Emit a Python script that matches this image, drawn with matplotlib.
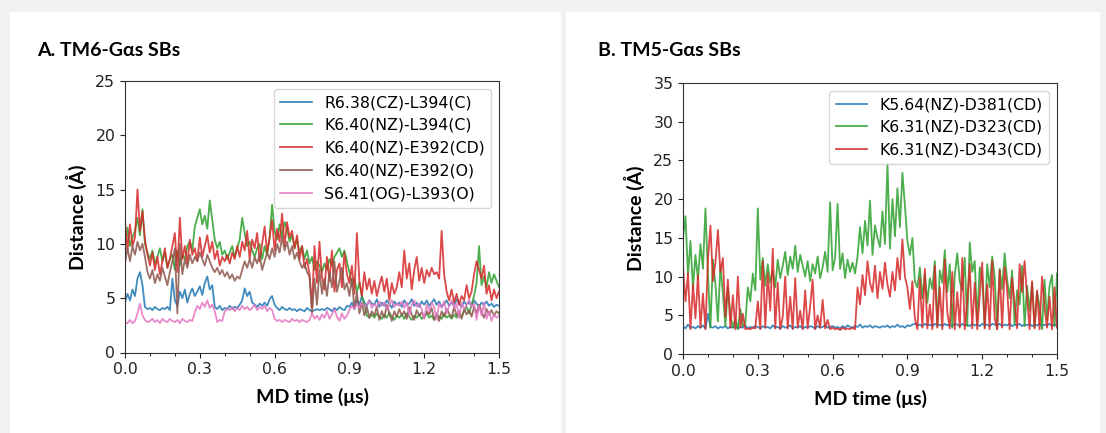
import numpy as np
import matplotlib.pyplot as plt
from matplotlib.patches import Rectangle
from matplotlib.ticker import MultipleLocator, FormatStrFormatter

# ---- A. TM6-Gas salt bridges (distance in Angstrom, one value per 0.01 us) ----
a_r638_l394 = [
    4.6, 5.4, 4.8, 5.8, 5.2, 6.8, 7.4, 6.2, 4.2, 4.0,
    4.1, 3.9, 4.2, 4.0, 3.9, 4.1, 4.0, 4.2, 3.9, 6.8,
    4.8, 4.3, 5.6, 5.0, 5.8, 4.6, 5.4, 5.9, 5.2, 5.6,
    6.1, 5.3, 6.4, 7.0, 5.8, 6.2, 4.2, 4.0, 4.3, 3.9,
    4.1, 4.0, 4.3, 4.0, 4.2, 4.1, 4.4, 4.8, 5.9, 5.2,
    5.6, 4.6, 4.4, 4.2, 4.5, 4.3, 4.6, 4.3, 4.9, 5.2,
    4.4, 4.1, 3.9, 4.2, 4.0, 3.9, 4.1, 3.9, 4.0, 3.8,
    4.0, 3.9, 3.8, 4.1, 3.9, 3.8, 3.9, 4.0, 3.9, 4.0,
    3.9, 4.1, 4.0, 3.8, 4.1, 3.9, 4.2, 4.0, 3.9, 4.3,
    4.2, 4.6, 4.0, 4.8, 4.4, 5.2, 4.6, 4.3, 4.8, 4.5,
    4.4, 4.9, 4.2, 4.6, 4.3, 4.8, 4.5, 4.1, 4.7, 4.4,
    4.6, 4.2, 4.8, 4.4, 4.5, 4.9, 4.3, 4.6, 4.2, 4.7,
    4.4, 4.8, 4.3, 4.6, 4.9, 4.4, 4.7, 4.2, 4.5, 4.8,
    4.3, 4.6, 4.4, 4.9, 4.5, 4.2, 4.7, 4.4, 4.6, 4.3,
    4.8, 4.5, 4.2, 4.6, 4.4, 4.7, 4.3, 4.5, 4.2, 4.4,
    4.3,
]
a_k640_l394 = [
    9.5, 11.5, 9.8, 10.6, 11.2, 12.4, 10.8, 13.2, 10.0, 9.2,
    8.6, 9.4, 8.2, 8.8, 9.6, 8.4, 9.2, 7.8, 8.6, 9.0,
    7.6, 9.4, 8.0, 9.0, 8.6, 9.8, 10.2, 9.4, 11.6, 12.4,
    13.2, 11.8, 12.6, 11.4, 14.0, 12.2, 10.4, 9.6, 10.2, 9.0,
    9.4, 8.6, 9.2, 9.8, 8.8, 9.6, 10.4, 12.4, 11.0, 9.8,
    10.2, 9.4, 8.8, 9.6, 10.0, 8.6, 9.8, 9.0, 10.6, 13.6,
    11.2, 10.4, 11.8, 10.6, 12.0, 11.4, 10.2, 10.8, 9.6, 10.4,
    9.2, 9.8, 8.6, 9.4, 8.2, 8.8, 7.6, 8.4, 8.0, 7.4,
    8.2, 7.6, 8.6, 8.0, 8.8, 9.2, 9.6, 8.8, 9.4, 8.4,
    7.4, 6.2, 6.8, 5.6, 6.4, 5.2, 4.4, 3.4, 3.2, 3.5,
    3.2, 3.6, 3.3, 3.1, 3.5, 3.2, 3.7, 3.3, 3.0, 3.4,
    3.2, 3.5, 3.1, 3.6, 3.3, 3.0, 3.4, 3.2, 3.5, 3.1,
    3.3, 3.6, 3.2, 3.4, 3.0, 3.5, 3.3, 3.1, 3.6, 3.2,
    3.4, 3.1, 3.5, 3.2, 3.6, 3.3, 3.8, 4.2, 3.6, 4.4,
    5.2, 6.4, 9.8, 6.2, 7.0, 6.0, 7.4, 6.4, 7.2, 6.6,
    6.0,
]
a_k640_e392cd = [
    12.2, 9.4, 11.8, 9.8, 10.6, 15.0, 11.2, 13.0, 10.4, 9.0,
    8.0, 9.2, 7.6, 8.8, 7.2, 8.4, 9.6, 7.8, 8.6, 9.8,
    11.0, 7.4, 12.4, 8.6, 9.8, 8.2, 10.4, 9.0, 9.6, 8.4,
    10.6, 8.8, 9.8, 10.8, 9.2, 10.2, 8.6, 9.4, 8.0, 8.8,
    8.4, 9.0, 8.2, 9.2, 8.6, 9.8, 8.8, 10.2, 9.4, 11.2,
    8.6, 10.4, 9.6, 11.0, 8.4, 10.0, 11.6, 9.2, 10.6, 12.2,
    9.4, 11.4, 10.2, 12.8, 9.8, 12.0, 10.6, 11.2, 9.6, 10.8,
    8.6, 9.8, 7.8, 8.6, 7.2, 4.2, 9.8, 6.4, 10.2, 7.0,
    5.8, 8.8, 6.6, 9.4, 5.6, 7.6, 8.2, 6.0, 9.2, 7.2,
    6.4, 8.0, 5.4, 11.0, 6.6, 5.2, 7.4, 5.8, 6.8, 5.4,
    6.6, 5.2, 6.2, 7.0, 5.6, 6.8, 4.8, 6.4, 5.4, 6.0,
    7.4, 6.0, 9.4, 6.8, 8.2, 5.8, 7.6, 8.8, 6.6, 7.8,
    6.4, 7.6, 7.0, 7.8, 7.2, 7.4, 6.8, 11.2, 7.2, 5.6,
    4.8, 5.8, 4.6, 5.4, 4.4, 5.2, 4.8, 6.2, 5.0, 5.6,
    7.2, 8.4, 7.6, 6.8, 8.0, 5.4, 6.2, 4.8, 5.8, 5.0,
    5.6,
]
a_k640_e392o = [
    8.2, 9.6, 8.4, 9.8, 9.0, 10.2, 9.4, 10.0, 8.8, 7.4,
    6.8, 7.6, 6.4, 7.2, 6.6, 7.8, 7.0, 6.2, 7.4, 8.4,
    9.6, 3.6, 10.0, 7.2, 8.6, 7.8, 9.0, 8.2, 8.8, 8.4,
    9.2, 8.6, 8.0, 9.0, 8.4, 7.8, 7.4, 7.8, 7.2, 7.6,
    7.0, 7.4, 6.8, 7.2, 6.6, 7.0, 6.8, 7.6, 8.4, 7.8,
    8.6, 7.8, 8.8, 8.2, 9.0, 7.6, 8.4, 9.2, 8.6, 9.6,
    8.8, 10.0, 9.2, 10.6, 9.4, 10.2, 9.0, 9.8, 8.6, 9.2,
    8.4, 7.8, 8.2, 7.4, 7.0, 3.6, 6.8, 4.4, 7.6, 5.4,
    6.8, 5.2, 7.4, 6.0, 8.4, 5.6, 6.6, 7.8, 5.8, 6.4,
    5.2, 6.8, 4.0, 5.6, 3.6, 4.6, 3.4, 4.2, 3.2, 3.8,
    3.4, 4.2, 3.0, 3.8, 3.2, 4.4, 3.6, 2.9, 3.8, 3.3,
    4.0, 3.4, 3.8, 3.1, 4.2, 3.5, 3.0, 3.9, 3.4, 3.7,
    3.2, 3.8, 3.5, 4.1, 3.0, 3.6, 2.9, 3.8, 3.3, 4.0,
    3.6, 3.2, 4.2, 3.4, 3.8, 3.1, 4.0, 3.5, 3.9, 3.3,
    4.2, 3.6, 4.4, 3.8, 3.2, 4.0, 3.5, 3.9, 3.4, 3.8,
    3.6,
]
a_s641_l393 = [
    2.8, 2.7, 3.0, 2.7, 2.9, 3.6, 4.5, 3.4, 3.0, 2.8,
    2.9, 3.1, 2.8, 3.0, 2.7, 3.1, 2.9, 2.8, 3.1, 2.9,
    2.8, 3.0, 2.7, 3.1, 2.9, 2.8, 3.0, 2.9, 3.7, 4.3,
    4.0, 4.6, 4.2, 4.8, 4.1, 4.4, 3.8, 2.8, 3.0, 2.9,
    3.8, 4.0, 3.9, 4.2, 3.8, 4.1, 3.9, 4.3, 4.0, 4.2,
    3.9, 4.1, 4.4, 3.9, 4.2, 4.0, 4.3, 3.8, 4.1, 3.9,
    3.1, 2.9, 3.0, 2.8, 3.0, 2.9, 2.8, 3.1, 2.9, 3.0,
    2.8, 3.0, 2.9, 2.8, 3.0, 3.6, 3.1, 3.4, 3.0, 3.5,
    3.2, 3.8, 3.1, 3.5, 4.0, 3.3, 2.9, 3.6, 3.1, 3.4,
    3.9, 4.3, 4.0, 4.5, 4.1, 4.6, 4.2, 4.4, 4.8, 4.1,
    4.5, 4.2, 4.7, 4.3, 4.6, 4.0, 4.4, 4.8, 4.2, 4.5,
    4.3, 4.7, 4.1, 4.6, 3.4, 4.4, 4.8, 4.2, 4.5, 4.0,
    3.1, 4.4, 3.8, 4.6, 4.2, 3.0, 4.5, 4.1, 4.7, 3.6,
    4.3, 4.8, 4.1, 4.5, 3.2, 4.6, 4.0, 4.4, 4.9, 4.2,
    4.5, 3.0, 4.3, 3.4, 4.6, 3.1, 3.8, 2.9, 3.5, 3.2,
    3.4,
]

# ---- B. TM5-Gas salt bridges ----
b_k564_d381 = [
    3.6, 3.3, 3.8, 3.4, 3.5, 3.3, 3.6, 3.4, 3.7, 3.3,
    5.2, 3.5, 3.4, 3.6, 3.3, 3.5, 3.4, 3.6, 3.3, 3.5,
    3.4, 3.6, 3.3, 3.5, 3.4, 3.7, 3.3, 3.5, 3.4, 3.6,
    3.5, 3.3, 3.6, 3.4, 3.5, 3.3, 3.7, 3.4, 3.5, 3.3,
    3.6, 3.4, 3.5, 3.7, 3.3, 3.5, 3.4, 3.6, 3.3, 3.5,
    3.4, 3.6, 3.5, 3.3, 3.6, 3.4, 3.5, 3.7, 3.4, 3.5,
    3.6, 3.4, 3.5, 3.3, 3.6, 3.4, 3.7, 3.5, 3.4, 3.6,
    3.5, 3.8, 3.4, 3.6, 3.5, 3.7, 3.4, 3.6, 3.5, 3.4,
    3.6, 3.5, 3.7, 3.4, 3.6, 3.5, 3.8, 3.5, 3.6, 3.4,
    3.7, 3.6, 3.8, 3.9, 3.7, 3.8, 3.6, 3.9, 3.7, 3.8,
    3.6, 3.9, 3.7, 3.8, 3.6, 3.9, 3.7, 3.8, 3.6, 3.9,
    3.8, 3.6, 3.9, 3.7, 3.8, 3.6, 3.9, 3.7, 3.8, 3.6,
    3.9, 3.7, 3.8, 3.6, 3.9, 3.8, 3.7, 3.9, 3.6, 3.8,
    3.7, 3.9, 3.6, 3.8, 3.7, 3.9, 3.6, 3.8, 3.7, 3.9,
    3.6, 3.8, 3.7, 3.9, 3.6, 3.8, 3.7, 3.9, 3.6, 3.8,
    3.7,
]
b_k631_d323 = [
    15.0, 17.8, 10.2, 14.6, 8.4, 12.8, 9.6, 14.2, 11.0, 18.8,
    10.4, 3.4, 12.2, 9.0, 4.2, 11.4, 7.8, 3.6, 8.6, 5.0,
    3.4, 4.6, 3.2, 5.8, 3.6, 4.0, 8.6, 6.8, 10.4, 8.2,
    18.8, 9.6, 12.4, 8.8, 11.6, 9.2, 10.8, 8.6, 12.2, 9.8,
    11.4, 13.2, 10.2, 12.6, 11.0, 14.0, 10.6, 12.8, 11.4, 10.0,
    12.0, 9.4, 11.6, 10.4, 12.6, 9.8, 11.2, 13.2, 10.6, 19.6,
    10.8, 12.4, 19.4, 11.0, 13.0, 9.8, 12.2, 10.6, 11.8, 10.4,
    12.6, 16.4, 13.0, 17.2, 14.0, 19.8, 12.8, 16.6, 15.0, 13.8,
    18.4, 14.2, 24.6, 13.6, 20.0, 15.2, 21.4, 16.4, 23.4, 19.2,
    14.6, 12.8, 15.0, 9.4, 8.6, 11.2, 7.2, 10.4, 6.6, 9.8,
    8.4, 12.0, 3.6, 10.8, 9.2, 13.4, 8.0, 11.6, 3.4, 10.2,
    13.0, 9.4, 8.2, 12.4, 3.6, 14.4, 10.6, 12.0, 4.2, 11.2,
    9.8, 3.4, 11.6, 8.6, 12.6, 10.0, 3.2, 11.0, 8.4, 13.0,
    9.6, 7.2, 10.8, 3.8, 8.2, 6.4, 11.4, 3.6, 8.8, 5.6,
    9.2, 3.4, 8.0, 6.2, 3.2, 9.6, 4.4, 8.8, 10.2, 3.6,
    10.4,
]
b_k631_d343 = [
    11.2, 6.8, 10.4, 3.2, 9.0, 4.6, 10.2, 3.4, 7.8, 3.2,
    12.2, 16.6, 9.4, 11.8, 16.0, 10.6, 12.4, 4.8, 9.6, 3.4,
    7.6, 3.2, 10.0, 3.4, 5.2, 3.2, 3.3, 3.2, 3.4, 3.3,
    6.8, 3.2, 12.0, 3.4, 10.4, 5.6, 13.6, 3.3, 9.2, 3.2,
    4.8, 10.0, 3.3, 7.4, 3.2, 9.8, 3.4, 5.6, 3.2, 8.2,
    3.3, 6.2, 9.6, 3.2, 5.0, 3.4, 7.0, 3.3, 4.4, 3.2,
    3.4, 3.2, 3.3, 3.1, 3.4, 3.2, 3.3, 3.2, 3.4, 3.2,
    8.6, 6.4, 10.2, 7.6, 12.0, 9.2, 8.0, 11.4, 7.2, 10.6,
    8.4, 11.8, 9.0, 7.4, 10.6, 8.2, 12.4, 9.6, 14.8, 10.0,
    8.6, 5.8, 9.4, 4.6, 3.2, 9.8, 3.4, 11.0, 3.3, 6.4,
    3.2, 11.4, 3.4, 8.6, 3.2, 12.2, 5.4, 3.3, 10.6, 3.2,
    8.0, 3.4, 12.4, 3.2, 6.8, 11.6, 3.3, 9.2, 3.2, 7.4,
    11.8, 3.3, 9.0, 3.2, 12.0, 4.6, 3.2, 10.8, 3.4, 11.2,
    8.4, 3.2, 9.8, 6.6, 3.3, 11.6, 8.0, 12.0, 7.4, 3.2,
    9.4, 3.3, 8.2, 3.2, 10.0, 6.0, 3.4, 7.4, 3.2, 8.6,
    3.4,
]

labels_a = ['R6.38(CZ)-L394(C)', 'K6.40(NZ)-L394(C)', 'K6.40(NZ)-E392(CD)',
            'K6.40(NZ)-E392(O)', 'S6.41(OG)-L393(O)']
labels_b = ['K5.64(NZ)-D381(CD)', 'K6.31(NZ)-D323(CD)', 'K6.31(NZ)-D343(CD)']
colors_a = ['tab:blue', 'tab:green', 'tab:red', 'tab:brown', 'tab:pink']
colors_b = ['tab:blue', 'tab:green', 'tab:red']

t = np.linspace(0, 1.5, len(a_r638_l394))

W, H = 1106, 433
fig = plt.figure(figsize=(W / 100, H / 100), dpi=100, facecolor='#f1f1f1')

# white cards behind each panel
fig.patches.append(Rectangle((10 / W, 0), 551 / W, 1 - 12 / H, transform=fig.transFigure,
                             facecolor='white', edgecolor='none', zorder=-1))
fig.patches.append(Rectangle((566 / W, 0), 534 / W, 1 - 12 / H, transform=fig.transFigure,
                             facecolor='white', edgecolor='none', zorder=-1))

ax1 = fig.add_axes([125 / W, 1 - 352.5 / H, 374 / W, 271.5 / H])
ax2 = fig.add_axes([683 / W, 1 - 354 / H, 374 / W, 271 / H])

series_a = [a_r638_l394, a_k640_l394, a_k640_e392cd, a_k640_e392o, a_s641_l393]
series_b = [b_k564_d381, b_k631_d323, b_k631_d343]

for y, c, lab in zip(series_a, colors_a, labels_a):
    ax1.plot(t, y, color=c, lw=1.3, alpha=0.85, label=lab)
for y, c, lab in zip(series_b, colors_b, labels_b):
    ax2.plot(t, y, color=c, lw=1.3, alpha=0.85, label=lab)

bold_font = ['Lato', 'DejaVu Sans']
for ax, ymax in ((ax1, 25), (ax2, 35)):
    ax.set_xlim(0, 1.5)
    ax.set_ylim(0, ymax)
    ax.xaxis.set_major_locator(MultipleLocator(0.3))
    ax.xaxis.set_minor_locator(MultipleLocator(0.1))
    ax.xaxis.set_major_formatter(FormatStrFormatter('%.1f'))
    ax.yaxis.set_major_locator(MultipleLocator(5))
    ax.tick_params(labelsize=11.3, colors='#222222')
    for s in ax.spines.values():
        s.set_color('#333333')
    ax.set_xlabel('MD time (μs)', fontsize=14, fontweight='bold', family=bold_font, labelpad=8)
    ax.set_ylabel('Distance (Å)', fontsize=14, fontweight='bold', family=bold_font, labelpad=6)
    ax.legend(loc='upper right', fontsize=11.3, handlelength=2.0)

fig.text(37 / W, 1 - 50 / H, 'A. TM6-Gαs SBs', fontsize=14, fontweight='bold',
         family=bold_font, va='center', ha='left')
fig.text(598 / W, 1 - 50 / H, 'B. TM5-Gαs SBs', fontsize=14, fontweight='bold',
         family=bold_font, va='center', ha='left')

fig.savefig('out.png', dpi=100, facecolor=fig.get_facecolor())
